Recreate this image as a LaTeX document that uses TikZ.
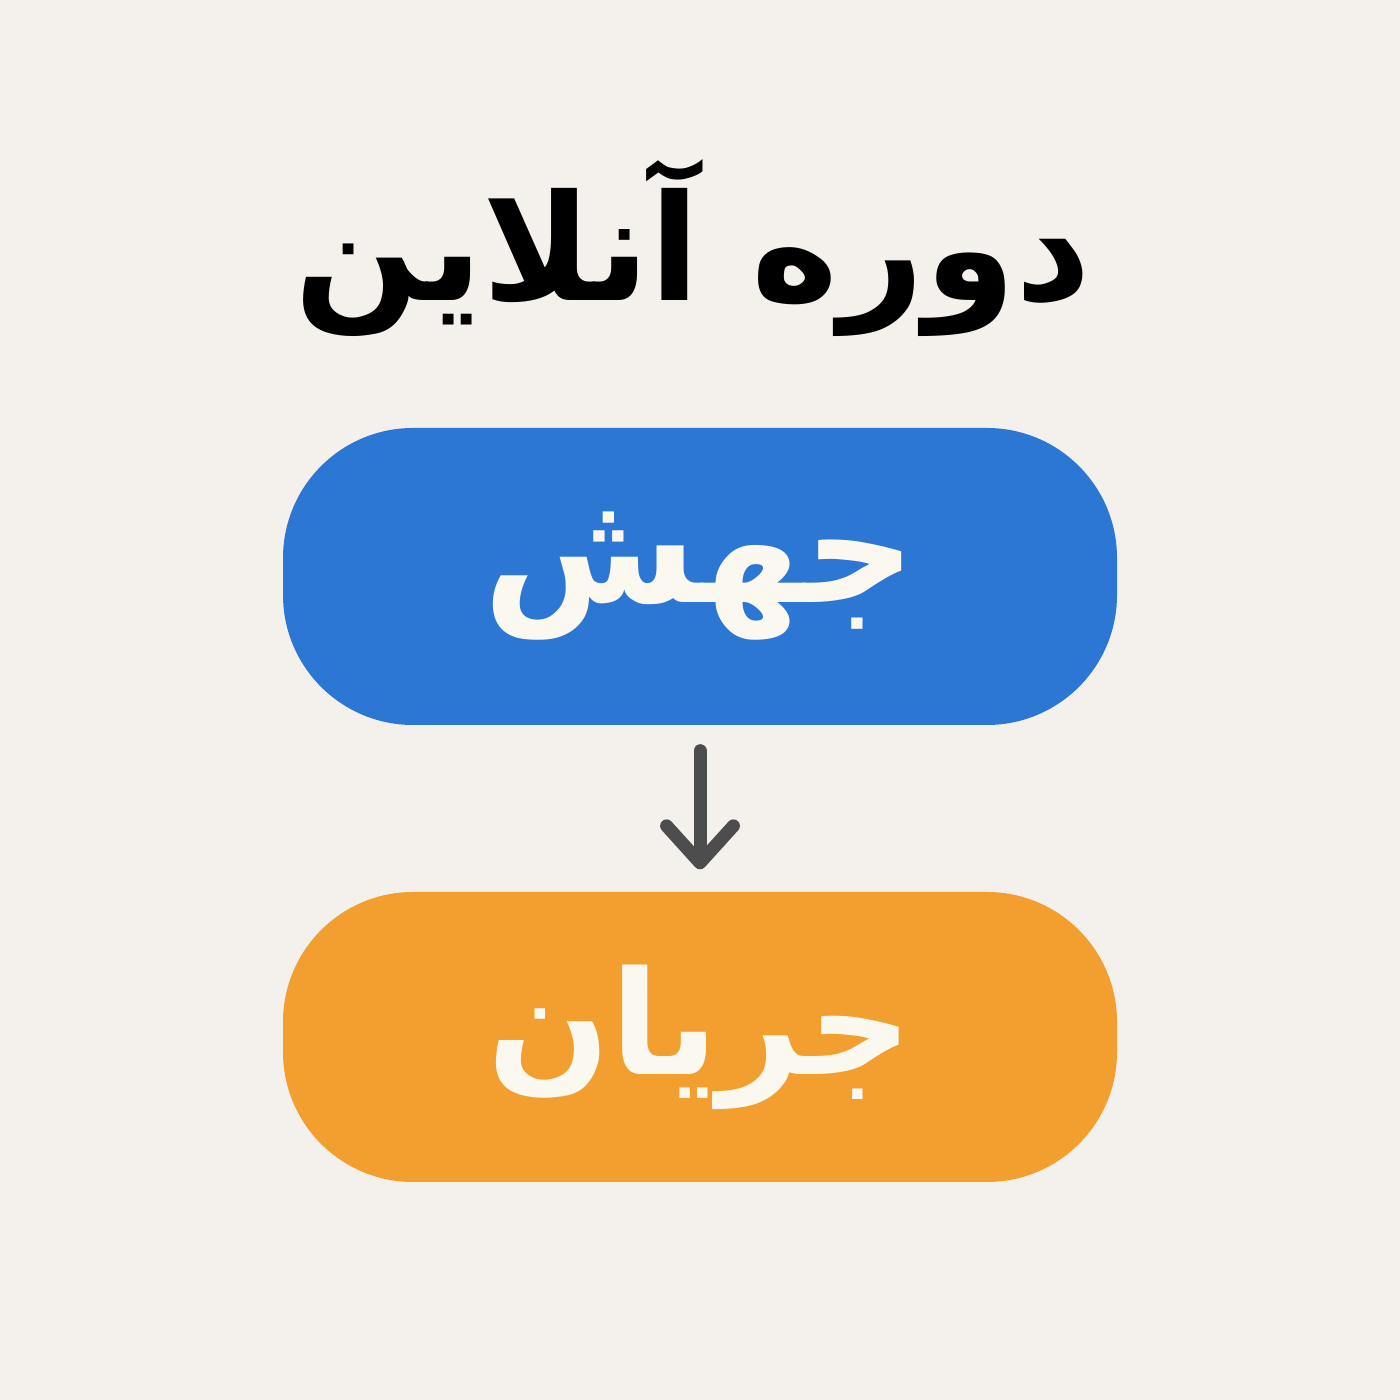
\documentclass[tikz,border=0pt]{standalone}
\usepackage{fontspec}
\newfontfamily\arabicfont[Script=Arabic]{DejaVu Sans}
\TeXXeTstate=1
\usetikzlibrary{positioning,arrows.meta}

\definecolor{paper}{HTML}{F4F1EC}
\definecolor{jumpblue}{HTML}{2C76D4}
\definecolor{floworange}{HTML}{F29F2F}
\definecolor{arrowgray}{HTML}{4D4D4D}
\definecolor{boxtext}{HTML}{FBF8F0}

\begin{document}
\begin{tikzpicture}[
    stagebox/.style={rounded corners=1.3cm, minimum width=8.34cm, minimum height=2.97cm,
        text=boxtext, font=\arabicfont\bfseries\fontsize{44}{52}\selectfont},
    stagearrow/.style={arrowgray, line width=3.7pt, line cap=round, line join=round,
        -{Straight Barb[length=10.5pt, width=19pt, line cap=round, line join=round]}},
]
    % background
    \fill[paper] (0,0) rectangle (14,14);
    \useasboundingbox (0,0) rectangle (14,14);

    % title
    \node[font=\arabicfont\bfseries\fontsize{42}{50}\selectfont] (title) at (6.93,11.52)
        {\beginR دوره آنلاین\endR};

    % stages
    \node[stagebox, fill=jumpblue] (jump) at (7,8.235) {\beginR جهش\endR};
    \node[stagebox, fill=floworange, minimum height=2.9cm,
        font=\arabicfont\bfseries\fontsize{41}{50}\selectfont] (flow) at (7,3.63)
        {\raisebox{-0.15cm}{\beginR جریان\endR}};

    % arrow
    \draw[stagearrow, shorten <=0.25cm, shorten >=0.22cm] (jump) -- (flow);
\end{tikzpicture}
\end{document}
